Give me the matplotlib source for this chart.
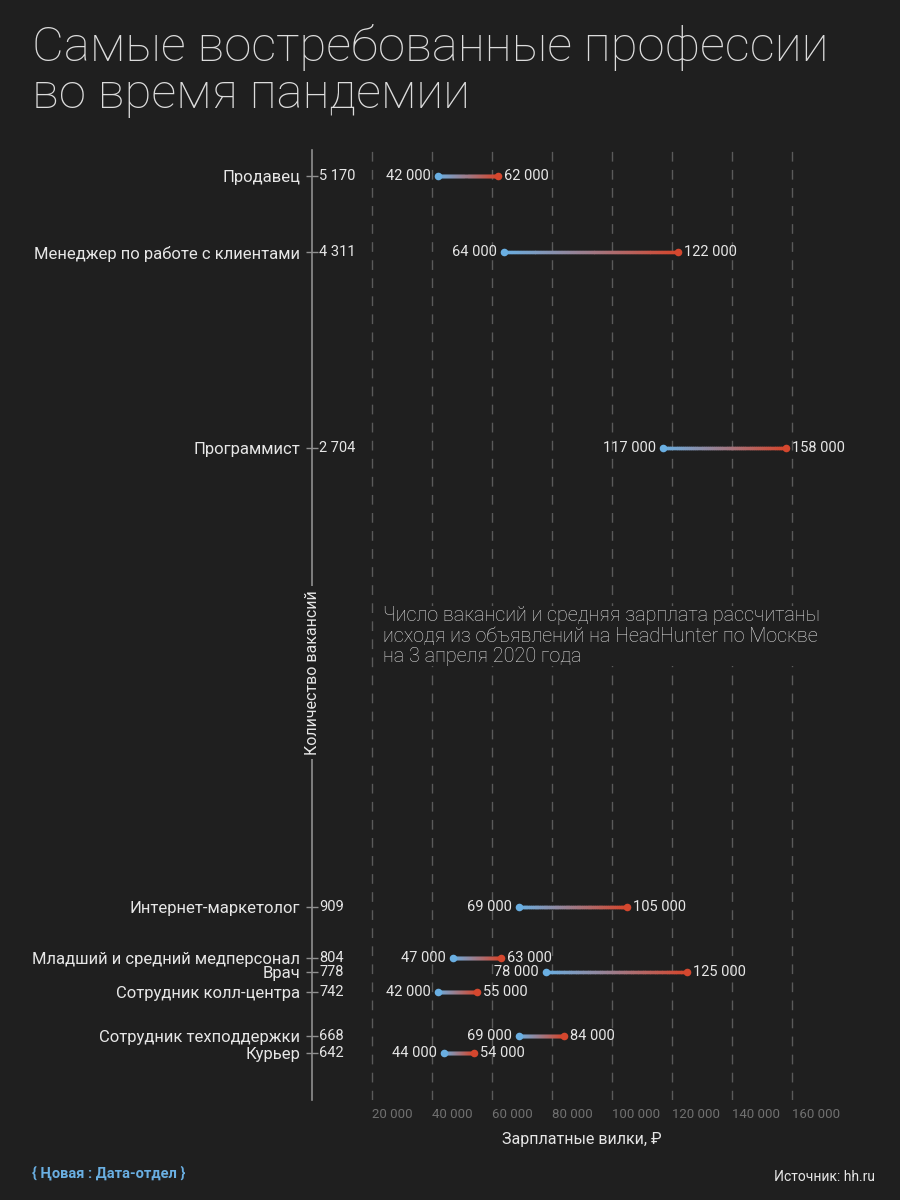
import numpy as np
import matplotlib
matplotlib.use("Agg")
import matplotlib.pyplot as plt
from matplotlib.collections import LineCollection
from matplotlib.colors import to_rgb
import matplotlib.transforms as mtransforms

# data
jobs = ["Продавец", "Менеджер по работе с клиентами", "Программист",
        "Интернет-маркетолог", "Младший и средний медперсонал", "Врач",
        "Сотрудник колл-центра", "Сотрудник техподдержки", "Курьер"]
vacancies = [5170, 4311, 2704, 909, 804, 778, 742, 668, 642]
salary_lo = [42000, 64000, 117000, 69000, 47000, 78000, 42000, 69000, 44000]
salary_hi = [62000, 122000, 158000, 105000, 63000, 125000, 55000, 84000, 54000]
x_ticks = [20000, 40000, 60000, 80000, 100000, 120000, 140000, 160000]

BG = "#1f1f1f"
FG = "#e6e6e6"
BLUE = "#6aafe2"
RED = "#d4472e"
GRID = "#5a5a5a"
FONT = ["Roboto", "DejaVu Sans"]

plt.rcParams["font.family"] = FONT


def fmt(v):
    return f"{v:,}".replace(",", " ")


fig = plt.figure(figsize=(9, 12), dpi=100, facecolor=BG)
ax = fig.add_axes([0.3467, 0.0833, 0.6, 0.7917], facecolor=BG)
ax.set_yscale("log")
ax.set_ylim(574, 5500)
ax.set_xlim(0, 180000)
ax.minorticks_off()

for s in ["top", "right", "bottom"]:
    ax.spines[s].set_visible(False)
ax.spines["left"].set_color("#8f8f8f")
ax.spines["left"].set_linewidth(1.2)

# grid
for t in x_ticks:
    ax.axvline(t, color=GRID, lw=1, ls=(0, (7, 6)), zorder=0)
ax.set_xticks(x_ticks)
ax.set_xticklabels([fmt(t) for t in x_ticks], ha="left", color="#707070", fontsize=9.5)
ax.tick_params(axis="x", length=0, pad=6)

ax.set_yticks(vacancies)
ax.set_yticklabels(jobs, color=FG, fontsize=12)
ax.tick_params(axis="y", which="major", direction="inout", length=9, width=1,
               color="#8f8f8f", pad=4)

tr = mtransforms.blended_transform_factory(ax.transAxes, ax.transData)
c_lo, c_hi = np.array(to_rgb(BLUE)), np.array(to_rgb(RED))
for n, lo, hi in zip(vacancies, salary_lo, salary_hi):
    ax.text(0.013, n, fmt(n), transform=tr, color=FG, fontsize=10.5, va="center", ha="left")
    xs = np.linspace(lo, hi, 60)
    segs = [[(xs[i], n), (xs[i + 1], n)] for i in range(len(xs) - 1)]
    f = np.linspace(0, 1, len(segs))[:, None]
    cols = c_lo * (1 - f) + c_hi * f
    ax.add_collection(LineCollection(segs, colors=cols, linewidths=2.4, zorder=3,
                                     capstyle="projecting"))
    ax.scatter([lo], [n], s=30, color=BLUE, zorder=4, linewidths=0)
    ax.scatter([hi], [n], s=30, color=RED, zorder=4, linewidths=0)
    ax.annotate(fmt(lo), (lo, n), xytext=(-5, 0), textcoords="offset points",
                ha="right", va="center", color=FG, fontsize=10.5)
    ax.annotate(fmt(hi), (hi, n), xytext=(4, 0), textcoords="offset points",
                ha="left", va="center", color=FG, fontsize=10.5)

# y axis title sitting on the spine
ax.text(0, 0.45, "Количество вакансий", transform=ax.transAxes, rotation=90,
        ha="center", va="center", color=FG, fontsize=11.5, zorder=5,
        bbox=dict(facecolor=BG, edgecolor="none", pad=3), clip_on=False)

ax.set_xlabel("Зарплатные вилки, ₽", color=FG, fontsize=11.5, labelpad=8)

ax.text(0.131, 0.52, "Число вакансий и средняя зарплата рассчитаны\n"
        "исходя из объявлений на HeadHunter по Москве\nна 3 апреля 2020 года",
        transform=ax.transAxes, color="#dedede", fontsize=14.2, fontweight="light",
        ha="left", va="top", linespacing=1.1,
        bbox=dict(facecolor=BG, edgecolor="none", pad=0))

fig.text(0.035, 0.98, "Самые востребованные профессии\nво время пандемии",
         color="#dcdcdc", fontsize=35.4, fontweight="light", ha="left", va="top",
         linespacing=1.02)

fig.text(0.035, 0.022, "{ Ңовая : Дата-отдел }", color=BLUE, fontsize=10.5,
         fontweight="bold", ha="left", va="center")
fig.text(0.972, 0.019, "Источник: hh.ru", color=FG, fontsize=10,
         ha="right", va="center")

fig.savefig("out.png", dpi=100, facecolor=BG)
